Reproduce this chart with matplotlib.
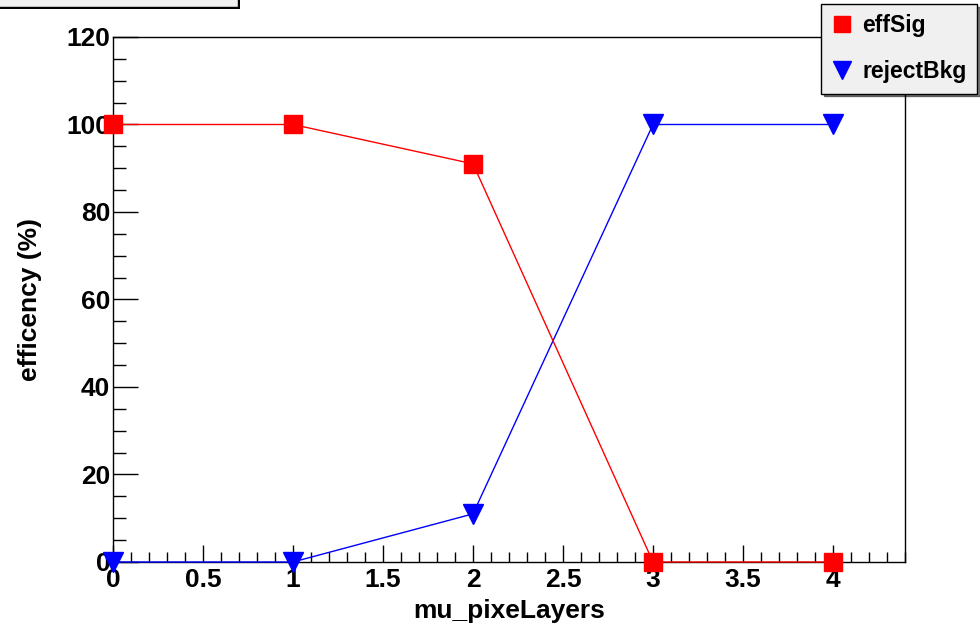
import matplotlib.pyplot as plt
from matplotlib.patches import Rectangle
from matplotlib.ticker import MultipleLocator

plt.rcParams["font.family"] = ["Liberation Sans", "DejaVu Sans"]
plt.rcParams["font.weight"] = "bold"

layers = [0, 1, 2, 3, 4]
eff_sig = [100, 100, 91, 0, 0]
reject_bkg = [0, 0, 11, 100, 100]


def main():
    fig = plt.figure(figsize=(9.8, 6.27), dpi=100)
    ax = fig.add_axes([0.1153, 0.1037, 0.8082, 0.8373])

    ax.plot(layers, eff_sig, color="red", linewidth=1, marker="s",
            markersize=13, label="effSig", clip_on=False, zorder=4)
    ax.plot(layers, reject_bkg, color="blue", linewidth=1, marker="v",
            markersize=14, label="rejectBkg", clip_on=False, zorder=3)

    ax.set_xlim(0, 4.4)
    ax.set_ylim(0, 120)
    ax.xaxis.set_major_locator(MultipleLocator(0.5))
    ax.xaxis.set_minor_locator(MultipleLocator(0.1))
    ax.yaxis.set_major_locator(MultipleLocator(20))
    ax.yaxis.set_minor_locator(MultipleLocator(5))
    ax.tick_params(which="both", direction="in", top=False, right=False,
                   labelsize=19, width=1, color="black")
    ax.tick_params(axis="x", which="major", length=12)
    ax.tick_params(axis="x", which="minor", length=7)
    ax.tick_params(axis="y", which="major", length=18)
    ax.tick_params(axis="y", which="minor", length=9)
    ax.tick_params(axis="x", pad=4)
    ax.tick_params(axis="y", pad=2)
    for lbl in ax.get_xticklabels() + ax.get_yticklabels():
        lbl.set_fontweight("bold")
    ax.xaxis.set_major_formatter(plt.FuncFormatter(lambda v, p: f"{v:g}"))
    ax.yaxis.set_major_formatter(plt.FuncFormatter(lambda v, p: f"{v:g}"))
    for sp in ax.spines.values():
        sp.set_linewidth(1)
        sp.set_color("black")

    ax.set_xlabel("mu_pixeLayers", fontsize=19, fontweight="bold")
    ax.set_ylabel("efficency (%)", fontsize=19, fontweight="bold")
    ax.xaxis.set_label_coords(0.5, -0.07)
    ax.yaxis.set_label_coords(-0.09, 0.5)

    leg = ax.legend(loc="upper left", bbox_to_anchor=(821 / 980, 1 - 4 / 627),
                    bbox_transform=fig.transFigure, fontsize=16.5,
                    frameon=True, fancybox=False, shadow={"color": "black"},
                    facecolor="#f0f0f0", edgecolor="black", framealpha=1,
                    handlelength=0.9, handletextpad=0.45, labelspacing=1.0,
                    borderpad=0.45, borderaxespad=0, markerscale=0.9)
    leg.get_frame().set_linewidth(1)
    for t in leg.get_texts():
        t.set_fontweight("bold")
    for h in leg.legend_handles:
        h.set_linestyle("none")

    # title box cut at top-left
    fig.patches.append(Rectangle((0, 1 - 9 / 627), 240 / 980, 9 / 627,
                                 transform=fig.transFigure, facecolor="black",
                                 edgecolor="none", zorder=1))
    fig.patches.append(Rectangle((-2 / 980, 1 - 7 / 627), 240 / 980, 9 / 627,
                                 transform=fig.transFigure, facecolor="#f0f0f0",
                                 edgecolor="black", linewidth=1, zorder=2))

    fig.savefig("out.png", dpi=100, facecolor="white")


if __name__ == "__main__":
    main()
